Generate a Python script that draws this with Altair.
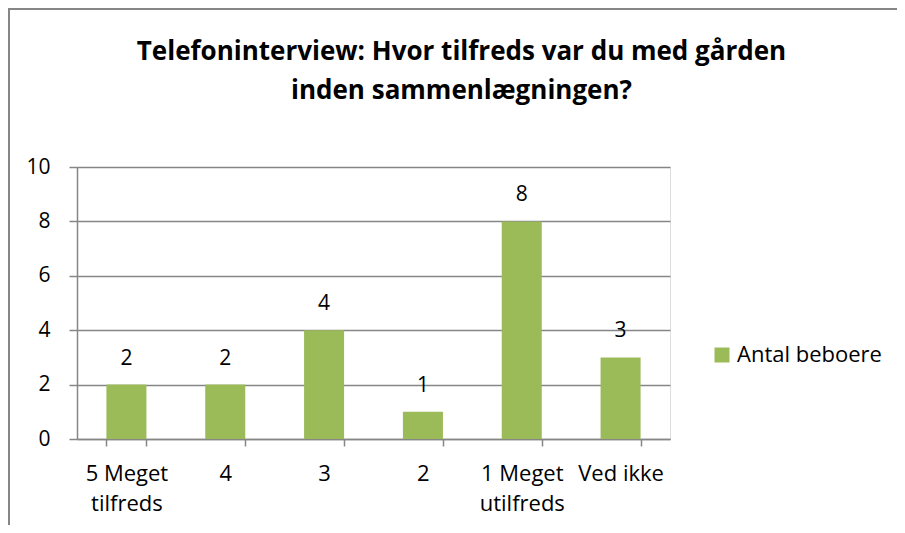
import altair as alt
import pandas as pd

categories = ["5 Meget tilfreds", "4", "3", "2", "1 Meget utilfreds", "Ved ikke"]
values = [2, 2, 4, 1, 8, 3]
series_name = "Antal beboere"
y_ticks = [0, 2, 4, 6, 8, 10]
title_lines = ["Telefoninterview: Hvor tilfreds var du med gården", "inden sammenlægningen?"]

df = pd.DataFrame({"kategori": categories, "antal": values, "serie": [series_name] * len(values)})

FONT = "Open Sans"
GRAY = "#868686"
GREEN = "#9BBB59"

x_enc = alt.X(
    "kategori:N",
    sort=categories,
    scale=alt.Scale(paddingInner=0.595, paddingOuter=0.2975),
    axis=alt.Axis(
        title=None,
        labelAngle=0,
        labelFont=FONT,
        labelFontSize=22,
        labelColor="#000000",
        labelPadding=17,
        labelLineHeight=30,
        labelExpr="indexof(datum.label, 'Meget') > 0 ? [slice(datum.label, 0, 7), slice(datum.label, 8)] : datum.label",
        tickBand="extent",
        tickSize=7,
        tickColor=GRAY,
        domainColor=GRAY,
        domainWidth=1.5,
        tickWidth=1.5,
        grid=False,
    ),
)
y_enc = alt.Y(
    "antal:Q",
    scale=alt.Scale(domain=[0, 10]),
    axis=alt.Axis(
        title=None,
        values=y_ticks,
        labelFont=FONT,
        labelFontSize=21,
        labelColor="#000000",
        labelPadding=19,
        tickSize=8,
        tickColor=GRAY,
        tickWidth=1.5,
        domainColor=GRAY,
        domainWidth=1.5,
        grid=True,
        gridColor=GRAY,
        gridWidth=1.5,
    ),
)

bars = alt.Chart(df).mark_bar(color=GREEN).encode(
    x=x_enc,
    y=y_enc,
    color=alt.Color(
        "serie:N",
        scale=alt.Scale(range=[GREEN]),
        legend=alt.Legend(
            title=None,
            orient="none",
            legendX=634,
            legendY=177,
            symbolType="square",
            symbolSize=225,
            symbolStrokeWidth=0,
            labelFont=FONT,
            labelFontSize=22,
            labelColor="#000000",
            padding=0,
        ),
    ),
)

labels = alt.Chart(df).mark_text(font=FONT, fontSize=21, color="#000000", dy=-26, baseline="middle").encode(
    x=alt.X("kategori:N", sort=categories),
    y="antal:Q",
    text="antal:Q",
)

frame_left = alt.Chart(df).mark_rule(color=GRAY, strokeWidth=2).encode(
    x=alt.value(-68), y=alt.value(-160), y2=alt.value(400)
)
frame_top = alt.Chart(df).mark_rule(color=GRAY, strokeWidth=2).encode(
    x=alt.value(-68), x2=alt.value(900), y=alt.value(-158)
)

chart = (
    alt.layer(bars, labels, frame_left, frame_top)
    .properties(
        width=593,
        height=272,
        title=alt.Title(
            title_lines,
            font=FONT,
            fontSize=26,
            fontWeight="bold",
            color="#000000",
            anchor="middle",
            dx=88,
            dy=98,
            lineHeight=39,
            offset=0,
        ),
        autosize=alt.AutoSizeParams(type="none"),
        padding={"left": 69, "top": 159, "right": 227, "bottom": 86},
    )
    .configure_view(stroke=None)
    .configure(background="#ffffff")
)

chart.save("out.html", embed_options={"renderer": "svg", "actions": False})
